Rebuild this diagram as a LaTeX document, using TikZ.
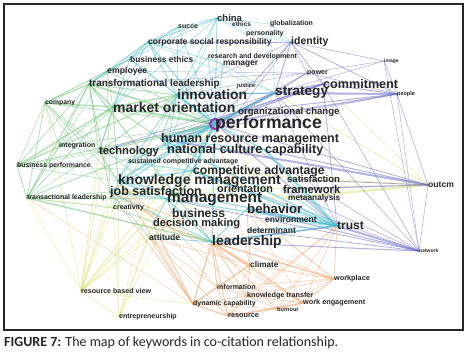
\documentclass[tikz,border=0pt]{standalone}
\usepackage{fontspec}
\setmainfont{Liberation Sans}
\newfontfamily\capfont{Carlito}
\usepackage{xcolor}
\usepackage{tikz}
\usetikzlibrary{backgrounds}

\definecolor{kwgray}{RGB}{38,38,38}
\definecolor{vgreen}{RGB}{110,195,120}
\definecolor{vteal}{RGB}{70,190,205}
\definecolor{vblue}{RGB}{105,105,195}
\definecolor{vyellow}{RGB}{215,225,100}
\definecolor{vorange}{RGB}{245,160,100}
\definecolor{vpurple}{RGB}{150,50,190}

\begin{document}
\begin{tikzpicture}[
    x=1pt, y=-1pt,
    term/.style={anchor=west, inner sep=0pt, text=kwgray,
                 font=\bfseries\fontsize{#1}{#1}\selectfont},
    link/.style={line width=#1 pt, opacity=0.5, line cap=round},
    hub/.style={draw=vpurple, line width=2pt}
  ]
  \useasboundingbox (0,0) rectangle (472,356);
  \node[term=9.5] (china) at (217,18) {china};
  \node[term=7] (succe) at (178,27) {succe};
  \node[term=6.5] (ethics) at (232,24) {ethics};
  \node[term=7] (glob) at (270,24) {globalization};
  \node[term=7] (person) at (246,34) {personality};
  \node[term=8.5] (csr) at (148,42) {corporate social responsibility};
  \node[term=10.5] (identity) at (291,42) {identity};
  \node[term=8.4] (busethics) at (130,59) {business ethics};
  \node[term=7] (rnd) at (208,57) {research and development};
  \node[term=8.4] (manager) at (223,64) {manager};
  \node[term=8.7] (employee) at (107,71) {employee};
  \node[term=9.9] (transform) at (89,84) {transformational leadership};
  \node[term=7] (power) at (307,73) {power};
  \node[term=5.7] (justice) at (237,86) {justice};
  \node[term=13.8] (innov) at (177,95) {innovation};
  \node[term=13.6] (strategy) at (275,93) {strategy};
  \node[term=12.6] (commit) at (323,84) {commitment};
  \node[term=5] (image) at (384,61) {image};
  \node[term=5.5] (people) at (397,94) {people};
  \node[term=14] (market) at (113,107) {market orientation};
  \node[term=9.6] (orgchange) at (238,112) {organizational change};
  \node[term=6.8] (company) at (45,103) {company};
  \node[term=17.6] (perf) at (215,124) {performance};
  \node[term=12.5] (hrm) at (161,139) {human resource management};
  \node[term=12.8] (natcult) at (167,149) {national culture};
  \node[term=12.6] (capab) at (265,150) {capability};
  \node[term=11.2] (tech) at (99,152) {technology};
  \node[term=7] (integr) at (59,146) {integration};
  \node[term=6.9] (busperf) at (17,166) {business performance};
  \node[term=7] (sca) at (128,162) {sustained competitive advantage};
  \node[term=12.2] (compadv) at (193,171) {competitive advantage};
  \node[term=14] (km) at (118,181) {knowledge management};
  \node[term=9.5] (satisf) at (287,179) {satisfaction};
  \node[term=12.5] (jobsat) at (110,192) {job satisfaction};
  \node[term=10.8] (orient) at (217,189) {orientation};
  \node[term=11.3] (framew) at (283,189) {framework};
  \node[term=15.4] (mgmt) at (167,199) {management};
  \node[term=8.3] (meta) at (288,198) {metaanalysis};
  \node[term=13.2] (behav) at (247,209) {behavior};
  \node[term=12.2] (business) at (172,213) {business};
  \node[term=8.6] (environ) at (265,219) {environment};
  \node[term=11.1] (decis) at (153,224) {decision making};
  \node[term=8.5] (determ) at (247,230) {determinant};
  \node[term=12] (trust) at (337,226) {trust};
  \node[term=8.6] (outcm) at (428,185) {outcm};
  \node[term=5] (network) at (419,251) {network};
  \node[term=13.9] (leader) at (212,242) {leadership};
  \node[term=7] (creat) at (113,208) {creativity};
  \node[term=6.9] (transact) at (27,198) {transactional leadership};
  \node[term=8.6] (attit) at (149,237) {attitude};
  \node[term=8.2] (climate) at (250,265) {climate};
  \node[term=7.3] (workpl) at (334,279) {workplace};
  \node[term=7] (info) at (217,287) {information};
  \node[term=7.2] (kt) at (247,296) {knowledge transfer};
  \node[term=7.3] (workeng) at (303,303) {work engagement};
  \node[term=7] (dyncap) at (193,304) {dynamic capability};
  \node[term=5.6] (burnout) at (277,309) {burnout};
  \node[term=7.3] (resource) at (228,316) {resource};
  \node[term=7.1] (rbv) at (81,291) {resource based view};
  \node[term=7] (entre) at (119,317) {entrepreneurship};

  \begin{scope}[on background layer]
    \fill[white] (0,0) rectangle (472,356);
    \foreach \a/\b/\w in {outcm/meta/2, outcm/satisf/0.8, outcm/strategy/0.8, outcm/jobsat/0.8,
        outcm/compadv/0.6, outcm/commit/0.6, rbv/tech/0.8, rbv/market/0.8, rbv/business/0.8,
        rbv/km/1, rbv/compadv/1, rbv/dyncap/0.6, rbv/creat/0.6, rbv/entre/0.8, rbv/transact/0.6,
        rbv/perf/1, rbv/capab/0.8, rbv/company/0.6, rbv/jobsat/0.6, entre/attit/0.6, entre/perf/0.6,
        entre/creat/0.6, entre/decis/0.6, entre/innov/0.5, entre/km/0.6, meta/jobsat/0.8,
        meta/satisf/0.6, meta/compadv/0.8, creat/compadv/0.6, transact/business/0.6}
      \draw[link=\w, vyellow] (\a.west) -- (\b.west);
    \foreach \a/\b/\w in {leader/climate/1.5, leader/workpl/1, leader/info/1, leader/kt/1,
        leader/workeng/1, leader/dyncap/1.5, leader/resource/1, leader/burnout/0.8,
        attit/dyncap/1, attit/climate/0.6, attit/info/0.6, attit/resource/0.6,
        dyncap/resource/1.5, dyncap/climate/0.8, dyncap/kt/0.8, dyncap/burnout/0.6,
        dyncap/info/0.8, dyncap/decis/1, dyncap/km/0.8, dyncap/jobsat/0.8,
        workpl/climate/0.8, workpl/burnout/0.6, workpl/workeng/1, workpl/behav/1, workpl/kt/0.6,
        workpl/jobsat/0.6, workpl/info/0.6, workpl/trust/0.8, climate/info/0.8, climate/kt/0.8,
        climate/perf/0.6, climate/resource/0.6, climate/workeng/0.6, climate/behav/0.8,
        climate/jobsat/0.6, resource/workeng/1.2, resource/kt/0.8, resource/burnout/0.8,
        resource/info/0.6, resource/trust/0.6, burnout/workeng/1, burnout/kt/0.6, info/kt/0.8,
        kt/workeng/0.8, workeng/jobsat/0.6, workeng/behav/0.6, burnout/trust/0.6, kt/km/0.6,
        info/km/0.6, decis/workpl/0.6, transact/dyncap/0.5, kt/trust/0.6, workeng/trust/0.6}
      \draw[link=\w, vorange] (\a.west) -- (\b.west);
    \foreach \a/\b/\w in {company/transform/1.5, company/market/1.5, company/employee/0.6,
        company/busperf/0.6, company/integr/0.6, company/transact/0.8, company/tech/0.6,
        company/perf/0.8, company/km/0.6, company/busethics/0.5, company/jobsat/0.5,
        company/mgmt/0.5, busperf/market/1.5, busperf/transform/0.8, busperf/integr/0.6,
        busperf/transact/1, busperf/tech/0.6, busperf/perf/1, busperf/innov/0.6, busperf/km/0.6,
        busperf/compadv/0.5, transact/transform/1.2, transact/employee/0.5, transact/jobsat/0.8,
        transact/leader/1.5, transact/market/0.8, transact/perf/1, transact/tech/0.6,
        transact/creat/0.6, transact/integr/0.5, transact/mgmt/0.8, integr/market/0.8,
        integr/tech/0.6, integr/innov/0.6, integr/perf/0.6, integr/transform/0.5,
        employee/busethics/0.6, employee/csr/0.5, employee/transform/0.8, employee/perf/0.8,
        employee/jobsat/0.5, employee/market/0.6, transform/perf/2, transform/market/1.5,
        transform/leader/1.2, transform/jobsat/1, transform/innov/1, transform/tech/0.8,
        creat/leader/0.8, creat/innov/0.6, creat/perf/0.6, creat/km/0.6, market/perf/2.2,
        market/innov/1.5, market/tech/1, market/km/1, market/busethics/0.6, market/hrm/1,
        tech/perf/1.2, tech/innov/1, tech/km/1, tech/natcult/0.8}
      \draw[link=\w, vgreen] (\a.west) -- (\b.west);
    \foreach \a/\b/\w in {image/identity/0.6, image/people/0.6, image/power/0.5,
        image/network/0.5, image/strategy/0.5, people/power/0.6, people/strategy/2,
        people/commit/1, people/identity/0.8, people/outcm/0.6, people/network/0.5,
        people/perf/1.5, people/orgchange/1, people/hrm/0.6, identity/power/0.6,
        identity/strategy/1, identity/commit/0.8, identity/perf/0.8, identity/orgchange/0.6,
        identity/innov/0.5, identity/csr/0.5, power/strategy/0.8, power/perf/0.8,
        power/innov/0.5, transform/power/0.5, employee/power/0.4, outcm/hrm/2, outcm/capab/1,
        outcm/framew/1.2, outcm/network/0.6, outcm/satisf/0.8, outcm/perf/0.8,
        network/trust/2, network/leader/1, network/behav/1, network/determ/0.8,
        network/framew/0.6, network/perf/0.6, network/strategy/0.6, network/commit/0.6,
        network/mgmt/0.8, network/compadv/0.6, trust/commit/0.8, trust/perf/1,
        trust/strategy/0.6, trust/leader/1.2, trust/behav/1, commit/perf/1.5,
        commit/strategy/1.5, commit/orgchange/1, commit/hrm/0.8, strategy/perf/2,
        strategy/tech/0.6, sca/strategy/0.5, tech/orgchange/0.6, strategy/innov/1}
      \draw[link=\w, vblue] (\a.west) -- (\b.west);
    \foreach \a/\b/\w in {china/csr/1, china/innov/0.8, china/perf/1, china/ethics/0.5,
        china/glob/0.5, china/succe/0.5, china/person/0.5, china/busethics/0.6,
        china/market/0.6, china/natcult/0.6, succe/csr/0.6, succe/perf/0.8,
        succe/busethics/0.5, succe/innov/0.6, succe/market/0.6, succe/transform/0.5,
        csr/perf/1.2, csr/innov/1, csr/busethics/1, csr/market/0.8, csr/manager/0.6,
        csr/transform/0.8, csr/strategy/0.5, busethics/perf/0.8, busethics/innov/0.6,
        busethics/transform/0.8, busethics/tech/0.6, rnd/innov/0.8, rnd/perf/0.6,
        rnd/strategy/0.5, manager/perf/0.8, manager/innov/0.6, justice/perf/0.5,
        justice/orgchange/0.4, ethics/identity/0.4, person/identity/0.4, glob/identity/0.5,
        glob/strategy/0.4, innov/perf/2.5, innov/strategy/1, innov/hrm/1, innov/km/1,
        innov/natcult/0.8, perf/hrm/2, perf/natcult/1.5, perf/capab/1.5, perf/compadv/2,
        perf/km/2, perf/mgmt/1.5, perf/jobsat/1.2, perf/strategy/2, perf/leader/1.5,
        perf/orgchange/1, perf/sca/1, perf/business/1, hrm/natcult/1, hrm/compadv/1.2,
        hrm/capab/1, compadv/trust/2.5, capab/trust/2.5, hrm/trust/1.5, km/trust/1.2,
        mgmt/trust/1.2, behav/trust/1.5, compadv/km/1.5, km/mgmt/1.5, mgmt/jobsat/1.2,
        business/mgmt/1, decis/mgmt/1, leader/mgmt/1.5, leader/behav/1.2, leader/jobsat/1,
        leader/trust/1.5, attit/leader/1, attit/jobsat/0.6, orient/trust/0.8,
        sca/compadv/1, sca/km/0.8, tech/sca/0.6, natcult/capab/0.8, framew/trust/1,
        environ/trust/0.8, determ/trust/0.8, satisf/trust/0.8}
      \draw[link=\w, vteal] (\a.west) -- (\b.west);
    \draw[hub] (perf.west) circle (5);
  \end{scope}

  \draw[line width=1.2pt, black!85] (4,4) rectangle (463,330);
  \node[anchor=west, inner sep=0pt, text=kwgray, font=\capfont\fontsize{14}{16}\selectfont]
    (caption) at (4,343) {\textbf{FIGURE 7:} The map of keywords in co-citation relationship.};
\end{tikzpicture}
\end{document}
